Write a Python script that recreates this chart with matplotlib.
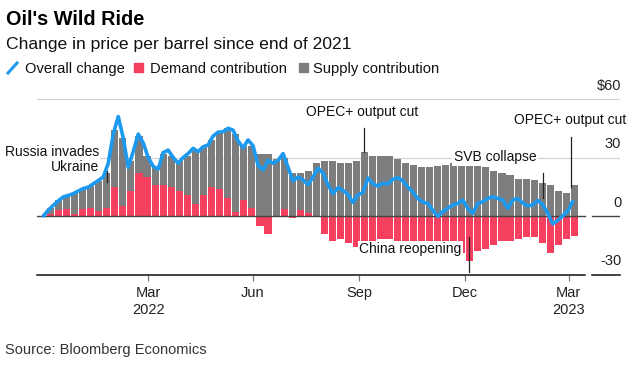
import pandas as pd
import matplotlib
matplotlib.use("Agg")
import matplotlib.pyplot as plt
import matplotlib.transforms as mtransforms
from matplotlib.patches import Rectangle
from matplotlib.lines import Line2D

plt.rcParams['font.family'] = ['Liberation Sans', 'DejaVu Sans']

W, H = 636, 371
BLUE = '#1c9af0'
RED = '#f43f5e'
GRAY = '#7d7d7d'

# weekly contributions ($/bbl), Mon-Fri blocks centred on Wednesday
weeks = pd.date_range('2022-01-05', periods=66, freq='7D')
demand = [1, 3, 3.5, 1, 3.5, 4, 2.5, 4, 15, 5,
          13, 22, 20, 16, 16, 15, 13, 11, 6, 11,
          15, 14, 9, 2, 8, 4, -5, -9, 0, 3.5,
          -1, 3, 1.5, 0, -9, -13, -12, -14, -16, -16,
          -13, -12, -12, -14, -15, -17, -17, -19, -21, -21,
          -20, -19, -23, -18, -17, -15, -13, -13, -12, -11,
          -11, -14, -19, -15, -12, -10]
supply = [3, 5, 6.5, 11, 10.5, 11.5, 15.5, 18, 29, 35,
          15, 19, 11, 9, 16, 16, 15, 20, 28, 24.5,
          24, 29, 36, 40, 28, 32, 32, 32, 29, 26.5,
          22, 19, 21.5, 27, 28, 28, 27, 27, 28, 33,
          31, 31, 31, 29, 27, 26, 25, 25, 25.5, 26,
          27, 27, 26, 26, 25, 23, 22, 21, 19, 19,
          18.5, 17, 16, 13, 12, 16]

# overall change line
line_dates = pd.date_range('2021-12-30', periods=107, freq='104h')
overall = [0, 3, 5.5, 7.8, 9.8, 10.5, 11.5, 12.8, 14.1, 14.8,
           16.5, 18.2, 20, 27, 42, 51, 40, 25, 33, 42,
           37.5, 30, 25.5, 24, 32.5, 33.8, 30, 27, 30, 32,
           34.7, 33, 35.5, 36.4, 41, 43, 43.2, 45, 44, 38.5,
           35, 39, 36, 26, 23.6, 28.5, 27, 28.5, 32, 25,
           18, 20, 18.5, 16, 20, 24.5, 22, 16, 11.5, 14.5,
           13.2, 11, 7, 10.8, 12, 19.5, 16.5, 15.3, 16.8, 16.5,
           18.8, 19.7, 18, 14.8, 12.3, 8.9, 7.2, 6.4, 2.9, -0.2,
           2.3, 4, 5.6, 6.5, 8.2, 3.9, 1.4, 6.5, 7.3, 9,
           9.9, 9, 8.2, 3.9, 8.2, 9, 6.7, 5.2, 5.6, 8,
           5.8, 1.5, -4, -2.3, 0, 2.5, 7.5]

ytick_values = [60, 30, 0, -30]
ytick_labels = ['$60', '30', '0', '-30']
xtick_dates = pd.to_datetime(['2022-03-31', '2022-06-30', '2022-09-30', '2022-12-31', '2023-03-31'])
xtick_labels = ['Mar\n2022', 'Jun', 'Sep', 'Dec', 'Mar\n2023']

fig = plt.figure(figsize=(W / 100, H / 100), dpi=100)
ax = fig.add_axes([37 / W, (H - 274.5) / H, 583 / W, 175.5 / H])

supply_bottom = [max(d, 0) for d in demand]
ax.bar(weeks, supply, width=6.2, bottom=supply_bottom, color=GRAY, linewidth=0, zorder=2)
ax.bar(weeks, demand, width=6.2, color=RED, linewidth=0, zorder=2)
ax.plot(line_dates, overall, color=BLUE, lw=2.6, zorder=4, solid_joinstyle='round', solid_capstyle='round')

ax.set_xlim(pd.Timestamp('2021-12-24 12:00'), pd.Timestamp('2023-05-14 10:00'))
ax.set_ylim(-30, 60)
for s in ax.spines.values():
    s.set_visible(False)

for v in (30, 60):
    ax.axhline(v, color='#d4d4d4', lw=0.9, zorder=1)
for xa, xb in ((0, 0.94), (0.952, 1.0)):
    ax.axhline(0, xmin=xa, xmax=xb, color='#444444', lw=1, zorder=3)
    ax.axhline(-30, xmin=xa, xmax=xb, color='#111111', lw=1.1, zorder=3, clip_on=False)

trans = mtransforms.blended_transform_factory(ax.transAxes, ax.transData)
for v, lab in zip(ytick_values, ytick_labels):
    ax.text(1.002, v + 6.8, lab, transform=trans, ha='right', va='center',
            fontsize=10.5, color='#222222')

ax.set_yticks([])
ax.set_xticks(xtick_dates, xtick_labels)
ax.tick_params(axis='x', length=4.5, width=0.9, color='#777777', pad=4,
               labelsize=10.5, labelcolor='#222222')

# annotations
ann_kw = dict(fontsize=10, color='#111111', zorder=6)
box = dict(facecolor='white', edgecolor='none', pad=1)
ax.text(pd.Timestamp('2022-02-16 08:00'), 29.2, 'Russia invades\nUkraine', ha='right', va='center',
        linespacing=1.1, bbox=box, **ann_kw)
ax.text(pd.Timestamp('2022-08-15'), 53.2, 'OPEC+ output cut', ha='left', va='center', **ann_kw)
ax.text(pd.Timestamp('2022-12-21'), 30.1, 'SVB collapse', ha='left', va='center', bbox=box, **ann_kw)
ax.text(pd.Timestamp('2023-05-20'), 49.2, 'OPEC+ output cut', ha='right', va='center',
        clip_on=False, **ann_kw)
ax.text(pd.Timestamp('2022-09-30'), -16.9, 'China reopening', ha='left', va='center', bbox=box, **ann_kw)

leaders = [('2022-02-23', 17.4, 23), ('2022-10-04', 32.8, 45), ('2023-03-09', 9.2, 22),
           ('2023-04-02', 14.9, 40.5), ('2023-01-03', -28.7, -10.8)]
for d, y0, y1 in leaders:
    t = pd.Timestamp(d)
    ax.plot([t, t], [y0, y1], color='#222222', lw=0.9, zorder=5)

# header
fig.text(6 / W, 1 - 25 / H, "Oil's Wild Ride", fontsize=14.3, fontweight='bold', va='baseline')
fig.text(6 / W, 1 - 49.3 / H, 'Change in price per barrel since end of 2021', fontsize=12.6,
         va='baseline', color='#111111')
fig.add_artist(Line2D([8 / W, 17 / W], [1 - 73 / H, 1 - 63 / H], color=BLUE, lw=2.2,
                      transform=fig.transFigure))
fig.add_artist(Rectangle((134 / W, 1 - 72 / H), 9 / W, 9 / H, color=RED, transform=fig.transFigure))
fig.add_artist(Rectangle((299 / W, 1 - 72 / H), 9 / W, 9 / H, color=GRAY, transform=fig.transFigure))
for x, lab in ((25, 'Overall change'), (150, 'Demand contribution'), (313, 'Supply contribution')):
    fig.text(x / W, 1 - 73.3 / H, lab, fontsize=10.6, va='baseline', color='#111111')

fig.text(5 / W, 1 - 350 / H, 'Source: Bloomberg Economics', fontsize=10.5, va='center', color='#333333')

fig.savefig('out.png', dpi=100)
